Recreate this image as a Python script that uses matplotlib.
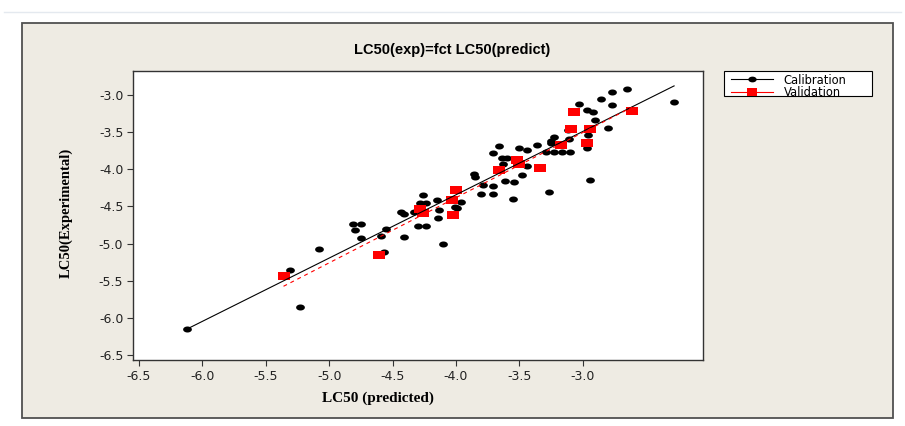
import numpy as np
import matplotlib
matplotlib.use("Agg")
import matplotlib.pyplot as plt
from matplotlib.path import Path
from matplotlib.lines import Line2D
from matplotlib.patches import Rectangle

# ---------------- data ----------------
cal_pred = [-6.12, -5.23, -5.31, -5.08, -4.81, -4.75, -4.80, -4.75, -4.59, -4.55,
            -4.57, -4.41, -4.43, -4.41, -4.33, -4.30, -4.24, -4.10, -4.26, -4.28,
            -4.24, -4.15, -4.13, -4.14, -3.96, -4.01, -3.99, -3.55, -3.86, -3.85,
            -3.79, -3.71, -3.80, -3.71, -3.61, -3.54, -3.48, -3.44, -3.63, -3.71,
            -3.66, -3.64, -3.60, -3.50, -3.44, -3.36, -3.29, -3.23, -3.16, -3.10,
            -3.27, -2.94, -3.23, -3.25, -3.25, -3.12, -3.11, -2.96, -2.97, -2.90,
            -2.80, -3.03, -2.97, -2.92, -2.86, -2.77, -2.77, -2.65, -2.28]
cal_exp = [-6.15, -5.85, -5.36, -5.07, -4.73, -4.74, -4.82, -4.92, -4.90, -4.81,
           -5.11, -4.91, -4.58, -4.60, -4.57, -4.77, -4.76, -5.00, -4.34, -4.45,
           -4.45, -4.41, -4.55, -4.66, -4.44, -4.51, -4.52, -4.40, -4.07, -4.10,
           -4.21, -4.22, -4.33, -4.33, -4.16, -4.17, -4.08, -3.96, -3.93, -3.78,
           -3.69, -3.85, -3.85, -3.72, -3.74, -3.67, -3.77, -3.77, -3.77, -3.77,
           -4.31, -4.14, -3.56, -3.62, -3.65, -3.47, -3.59, -3.54, -3.72, -3.33,
           -3.45, -3.12, -3.20, -3.23, -3.05, -2.96, -3.13, -2.92, -3.09]
val_pred = [-5.36, -4.61, -4.28, -4.26, -4.02, -4.03, -4.00, -3.66, -3.52, -3.50,
            -3.34, -3.17, -2.97, -3.09, -2.94, -3.07, -2.61]
val_exp = [-5.44, -5.16, -4.53, -4.59, -4.62, -4.42, -4.28, -4.01, -3.88, -3.93,
           -3.98, -3.67, -3.64, -3.46, -3.46, -3.23, -3.21]
cal_fit = [0.852, -0.935]   # slope, intercept of calibration fit line
val_fit = [0.877, -0.874]   # slope, intercept of validation fit line

x_ticks = [-6.5, -6.0, -5.5, -5.0, -4.5, -4.0, -3.5, -3.0]
y_ticks = [-3.0, -3.5, -4.0, -4.5, -5.0, -5.5, -6.0, -6.5]
title_text = "LC50(exp)=fct LC50(predict)"
xlabel_text = "LC50 (predicted)"
ylabel_text = "LC50(Experimental)"
legend_labels = ["Calibration", "Validation"]

# ---------------- figure ----------------
W, H = 905, 426
fig = plt.figure(figsize=(W / 100, H / 100), dpi=100)
fig.patch.set_facecolor("white")

# faint top rule
fig.add_artist(Line2D([0.004, 0.996], [1 - 12 / H, 1 - 12 / H], transform=fig.transFigure,
                      color="#e4e9ef", lw=1.0, zorder=-2))
# beige panel
panel = Rectangle((22 / W, 1 - 418 / H), (893 - 22) / W, (418 - 23) / H,
                  transform=fig.transFigure, facecolor="#eeebe3",
                  edgecolor="#505050", lw=1.3, zorder=-1)
fig.add_artist(panel)

ax = fig.add_axes([133 / W, 1 - 360 / H, (703 - 133) / W, (360 - 71) / H])
ax.set_facecolor("white")

# stretched markers (reference is horizontally stretched)
t = np.linspace(0, 2 * np.pi, 41)
ell = Path(np.column_stack([1.45 * np.cos(t), np.sin(t)]), closed=True)
rect = Path([(-0.73, -0.5), (0.73, -0.5), (0.73, 0.5), (-0.73, 0.5), (-0.73, -0.5)], closed=True)

ax.plot(cal_pred, cal_exp, linestyle="none", marker=ell, ms=6.3,
        mfc="black", mec="black", mew=0, zorder=3)
ax.plot(val_pred, val_exp, linestyle="none", marker=rect, ms=8.2,
        mfc="#ff0000", mec="#ff0000", mew=0, zorder=4)

cx = np.array([min(cal_pred), max(cal_pred)])
ax.plot(cx, cal_fit[0] * cx + cal_fit[1], color="black", lw=0.8, zorder=5)
vx = np.array([min(val_pred), max(val_pred)])
ax.plot(vx, val_fit[0] * vx + val_fit[1], color="#ff0000", lw=0.8,
        linestyle=(0, (3.5, 3.5)), zorder=5)

ax.set_xlim(-6.547, -2.052)
ax.set_ylim(-6.567, -2.677)
ax.set_xticks(x_ticks)
ax.set_xticklabels([f"{v:.1f}" for v in x_ticks])
ax.set_yticks(y_ticks)
ax.set_yticklabels([f"{v:.1f}" for v in y_ticks])
ax.tick_params(direction="out", length=4, width=0.8, pad=3, labelsize=9,
               color="#333333", labelcolor="#222222")
for s in ax.spines.values():
    s.set_color("#333333")
    s.set_linewidth(1.0)

ax.set_xlabel(xlabel_text, fontfamily="Liberation Serif", fontweight="bold", fontsize=11)
ax.xaxis.set_label_coords(0.43, -0.11)
ax.set_ylabel(ylabel_text, fontfamily="Liberation Serif", fontweight="bold", fontsize=10.5)
ax.yaxis.set_label_coords(-0.105, 0.51)

fig.text(0.5, 1 - 50 / H, title_text, ha="center", va="center",
         fontfamily="Liberation Sans", fontweight="bold", fontsize=10.5)

# legend frame drawn explicitly, entries via legend without frame
fig.add_artist(Rectangle((724 / W, 1 - 96 / H), (872 - 724) / W, (96 - 71) / H,
                         transform=fig.transFigure, facecolor="white",
                         edgecolor="black", lw=0.8, zorder=4))
handles = [Line2D([], [], color="black", lw=0.8, marker=ell, ms=6.0, mfc="black", mec="black", mew=0),
           Line2D([], [], color="#ff0000", lw=0.8, marker=rect, ms=7.5, mfc="#ff0000", mec="#ff0000", mew=0)]
leg = fig.legend(handles, legend_labels, loc="upper left",
                 bbox_to_anchor=(731 / W, 1 - 73.5 / H), frameon=False, fontsize=8.3,
                 handlelength=3.6, borderpad=0, labelspacing=0.0,
                 handletextpad=0.95, borderaxespad=0)
leg.set_zorder(5)

fig.savefig("out.png", dpi=100, facecolor="white")
